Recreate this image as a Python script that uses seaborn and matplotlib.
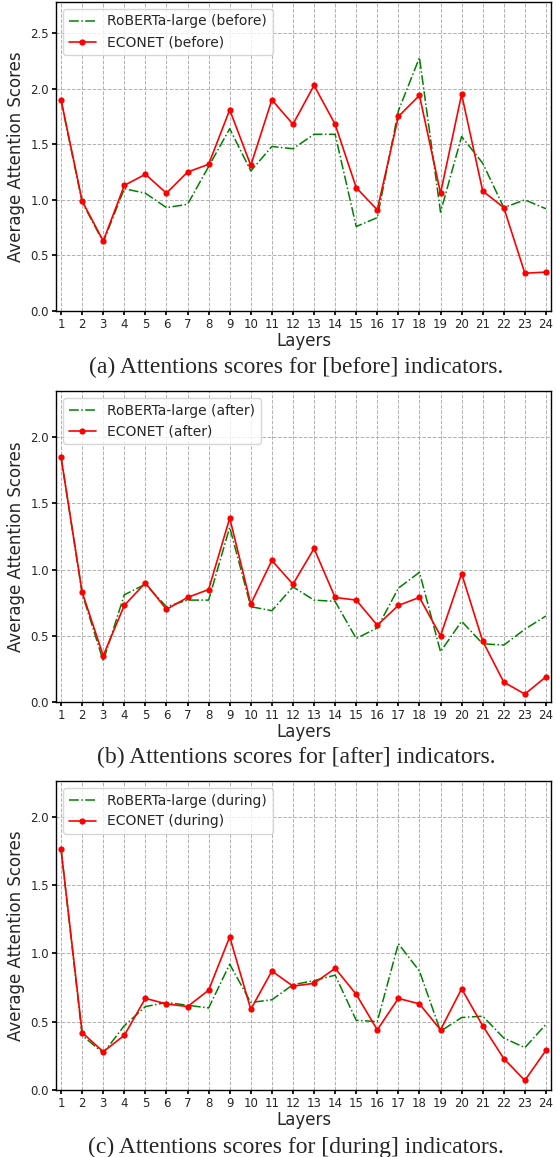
import numpy as np
import pandas as pd
import matplotlib
matplotlib.use('Agg')
import matplotlib.pyplot as plt
import seaborn as sns

# values
layers = list(range(1, 25))

roberta_before = [1.89, 0.98, 0.62, 1.10, 1.06, 0.93, 0.96, 1.30, 1.64, 1.26, 1.48, 1.46,
                  1.59, 1.59, 0.76, 0.84, 1.80, 2.28, 0.89, 1.57, 1.33, 0.93, 1.00, 0.92]
econet_before = [1.90, 0.99, 0.63, 1.13, 1.23, 1.06, 1.25, 1.32, 1.81, 1.31, 1.90, 1.68,
                 2.03, 1.68, 1.11, 0.91, 1.75, 1.94, 1.06, 1.95, 1.08, 0.93, 0.34, 0.35]

roberta_after = [1.85, 0.82, 0.31, 0.81, 0.89, 0.72, 0.77, 0.77, 1.32, 0.72, 0.69, 0.87,
                 0.77, 0.76, 0.48, 0.56, 0.86, 0.98, 0.38, 0.61, 0.44, 0.43, 0.55, 0.65]
econet_after = [1.85, 0.83, 0.35, 0.73, 0.90, 0.70, 0.79, 0.85, 1.39, 0.74, 1.07, 0.89,
                1.16, 0.79, 0.77, 0.58, 0.73, 0.79, 0.50, 0.97, 0.46, 0.15, 0.06, 0.19]

roberta_during = [1.76, 0.40, 0.27, 0.47, 0.61, 0.64, 0.62, 0.60, 0.92, 0.64, 0.66, 0.77,
                  0.80, 0.84, 0.51, 0.50, 1.07, 0.87, 0.43, 0.53, 0.54, 0.38, 0.31, 0.48]
econet_during = [1.76, 0.42, 0.28, 0.40, 0.67, 0.63, 0.61, 0.73, 1.12, 0.59, 0.87, 0.76,
                 0.78, 0.89, 0.70, 0.44, 0.67, 0.63, 0.44, 0.74, 0.47, 0.23, 0.07, 0.29]

indicators = ['before', 'after', 'during']
captions = ['(a) Attentions scores for [before] indicators.',
            '(b) Attentions scores for [after] indicators.',
            '(c) Attentions scores for [during] indicators.']

sns.set_theme(style='ticks')
plt.rcParams['font.family'] = ['DejaVu Sans']

fig = plt.figure(figsize=(5.56, 11.57), dpi=100)
W, H = 556, 1157

# axes boxes in pixels: (top, bottom)
boxes = [(2, 311), (391, 702), (781, 1090)]
caption_y = [367, 757, 1147]
series = [(roberta_before, econet_before), (roberta_after, econet_after),
          (roberta_during, econet_during)]

for i, ind in enumerate(indicators):
    top, bot = boxes[i]
    ax = fig.add_axes([56 / W, 1 - bot / H, 495 / W, (bot - top) / H])
    rob, eco = series[i]
    df = pd.DataFrame({'Layers': layers, 'rob': rob, 'eco': eco})

    sns.lineplot(data=df, x='Layers', y='rob', ax=ax, color='green', linestyle='-.',
                 linewidth=1.1, label=f'RoBERTa-large ({ind})')
    sns.lineplot(data=df, x='Layers', y='eco', ax=ax, color='red', marker='o',
                 markersize=4.5, markeredgewidth=0, linewidth=1.2, label=f'ECONET ({ind})')

    ymax = max(max(rob), max(eco)) + 0.5
    ax.set_ylim(0, ymax)
    ax.set_xlim(0.76, 24.24)
    ax.set_xticks(layers)
    ax.set_yticks(np.arange(0, ymax, 0.5))
    ax.set_yticklabels([f'{v:.1f}' for v in np.arange(0, ymax, 0.5)])
    ax.tick_params(axis='both', labelsize=8.5, length=3, pad=2, color='black')
    ax.grid(True, linestyle='--', color='#b0b0b0', linewidth=0.7)
    for s in ax.spines.values():
        s.set_color('black')
        s.set_linewidth(1.0)
    ax.set_xlabel('Layers', fontsize=12, labelpad=1)
    ax.set_ylabel('Average Attention Scores', fontsize=12, labelpad=4)
    ax.legend(loc='upper left', fontsize=10, frameon=True, framealpha=0.8,
              edgecolor='0.8', fancybox=True)

    fig.text(296 / W, 1 - caption_y[i] / H, captions[i], ha='center', va='center',
             fontsize=17, family='Liberation Serif')

fig.savefig('out.png', dpi=100)
